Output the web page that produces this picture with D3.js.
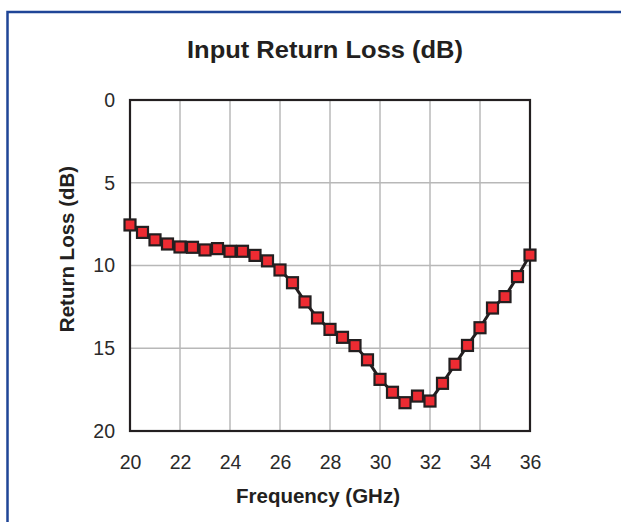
<!DOCTYPE html>
<html><head><meta charset="utf-8">
<script src="https://cdn.jsdelivr.net/npm/d3@7"></script>
<style>html,body{margin:0;padding:0;background:#fff;}svg{display:block;}</style>
</head><body>
<script>
const title = "Input Return Loss (dB)";
const xLabel = "Frequency (GHz)";
const yLabel = "Return Loss (dB)";
const frequency = [20,20.5,21,21.5,22,22.5,23,23.5,24,24.5,25,25.5,26,26.5,27,27.5,28,28.5,29,29.5,30,30.5,31,31.5,32,32.5,33,33.5,34,34.5,35,35.5,36];
const returnLoss = [7.55,8.0,8.45,8.7,8.88,8.9,9.06,8.98,9.14,9.14,9.39,9.72,10.27,11.04,12.2,13.17,13.86,14.34,14.84,15.7,16.88,17.66,18.29,17.89,18.19,17.12,15.97,14.83,13.76,12.57,11.88,10.67,9.37];
const xTicks = [20,22,24,26,28,30,32,34,36];
const yTicks = [0,5,10,15,20];

const W = 621, H = 522;
const svg = d3.select("body").append("svg").attr("width", W).attr("height", H);
const font = "'Liberation Sans', Arial, Helvetica, sans-serif";

// blue frame
svg.append("path").attr("d", `M7.5,${H+5} L7.5,12 L${W+5},12`)
  .attr("fill","none").attr("stroke","#1f4597").attr("stroke-width",2.5);

const L = 130, R = 530, T = 100, B = 431;
const x = d3.scaleLinear().domain([20,36]).range([L,R]);
const y = d3.scaleLinear().domain([0,20]).range([T,B]);

// grid
const g = svg.append("g");
g.selectAll(".vg").data(xTicks).enter().append("line")
  .attr("x1", d=>x(d)).attr("x2", d=>x(d)).attr("y1", T).attr("y2", B)
  .attr("stroke","#b8b8b8").attr("stroke-width",1.5);
g.selectAll(".hg").data(yTicks).enter().append("line")
  .attr("x1", L).attr("x2", R).attr("y1", d=>y(d)).attr("y2", d=>y(d))
  .attr("stroke","#b8b8b8").attr("stroke-width",1.5);

// frame of plot
svg.append("rect").attr("x",L).attr("y",T).attr("width",R-L).attr("height",B-T)
  .attr("fill","none").attr("stroke","#231f20").attr("stroke-width",2.2);

// axes labels via d3 axes (no lines)
const xAxis = svg.append("g").attr("transform",`translate(0,${B})`)
  .call(d3.axisBottom(x).tickValues(xTicks).tickSize(0).tickPadding(24).tickFormat(d3.format("d")));
const yAxis = svg.append("g").attr("transform",`translate(${L},0)`)
  .call(d3.axisLeft(y).tickValues(yTicks).tickSize(0).tickPadding(15).tickFormat(d3.format("d")));
[xAxis,yAxis].forEach(a=>{
  a.select(".domain").remove();
  a.selectAll("text").attr("font-family",font).attr("font-weight","400")
    .attr("font-size",19.5).attr("fill","#2a2a2a");
});

// line
const data = frequency.map((f,i)=>({f, v: returnLoss[i]}));
svg.append("path").datum(data)
  .attr("d", d3.line().x(d=>x(d.f)).y(d=>y(d.v)))
  .attr("fill","none").attr("stroke","#231f20").attr("stroke-width",3);

// markers
const s = 11;
svg.selectAll(".m").data(data).enter().append("rect")
  .attr("x", d=>x(d.f)-s/2).attr("y", d=>y(d.v)-s/2)
  .attr("width", s).attr("height", s)
  .attr("fill","#ed2b32").attr("stroke","#231f20").attr("stroke-width",2.2);

// titles
svg.append("text").attr("x", 325).attr("y", 58).attr("text-anchor","middle")
  .attr("font-family",font).attr("font-weight","bold").attr("font-size",24.5)
  .attr("textLength",276).attr("lengthAdjust","spacingAndGlyphs")
  .attr("fill","#231f20").text(title);
svg.append("text").attr("x", 318).attr("y", 503).attr("text-anchor","middle")
  .attr("font-family",font).attr("font-weight","bold").attr("font-size",20.5)
  .attr("fill","#231f20").text(xLabel);
svg.append("text").attr("transform","translate(74,249) rotate(-90)").attr("text-anchor","middle")
  .attr("font-family",font).attr("font-weight","bold").attr("font-size",20.5)
  .attr("fill","#231f20").text(yLabel);
</script>
</body></html>
